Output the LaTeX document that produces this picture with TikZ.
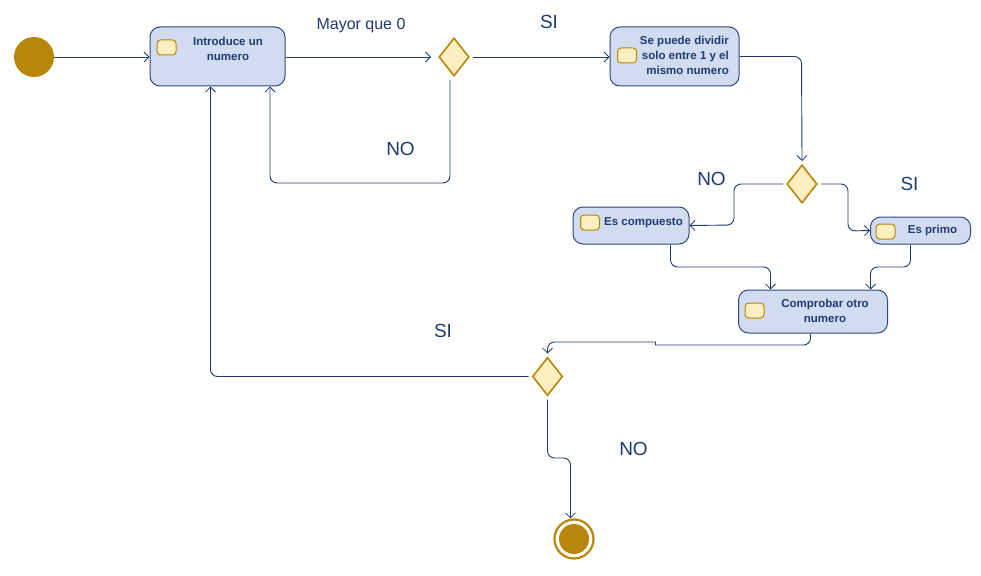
\documentclass[tikz,border=0pt]{standalone}
\usepackage{fontspec}
\setmainfont{Liberation Sans}
\usetikzlibrary{arrows.meta,shapes.geometric}
\definecolor{navy}{HTML}{1F3A70}
\definecolor{boxfill}{HTML}{D1DCF0}
\definecolor{boxline}{HTML}{2E4A7E}
\definecolor{iconfill}{HTML}{FDEFC0}
\definecolor{gold}{HTML}{B8860B}
\tikzset{
  flow/.style={draw=navy, line width=0.9pt, rounded corners=7pt,
    -{Straight Barb[length=5pt,width=10pt,line width=0.8pt]}},
  act/.style={draw=boxline, fill=boxfill, rounded corners=10pt, line width=1pt, inner sep=0pt},
  icon/.style={draw=gold, fill=iconfill, rounded corners=3.5pt, minimum width=19pt,
    minimum height=15pt, line width=1pt, inner sep=0pt},
  dec/.style={diamond, draw=gold, fill=iconfill, line width=1.6pt, minimum width=32pt,
    minimum height=40pt, inner sep=0pt, outer sep=3pt},
  btxt/.style={text=navy, font=\fontsize{11.5}{15}\selectfont\bfseries, inner sep=0pt},
  lbl/.style={text=navy, font=\fontsize{19}{22}\selectfont, inner sep=0pt},
}
\begin{document}
\begin{tikzpicture}[x=1pt,y=-1pt]
\useasboundingbox (0,0) rectangle (981,575);
% start
\node[circle, fill=gold, minimum size=40pt, inner sep=0pt] (start) at (34,57) {};
% activities
\node[act, minimum width=135pt, minimum height=59pt] (b1) at (217.5,56.5) {};
\node[icon] (i1) at (166.5,47.5) {};
\node[btxt, align=center] (t1) at (228,48.5) {Introduce un\\numero};

\node[act, minimum width=129pt, minimum height=59pt] (b2) at (674.5,56.5) {};
\node[icon] (i2) at (627,55.5) {};
\node[btxt, align=right, anchor=east] (t2) at (729,55.5) {Se puede dividir\\solo entre 1 y el\\mismo numero};

\node[act, minimum width=116pt, minimum height=37pt] (ec) at (631,225.5) {};
\node[icon] (i3) at (590,222.5) {};
\node[btxt] (t3) at (643.5,223) {Es compuesto};

\node[act, minimum width=100pt, minimum height=27pt] (ep) at (920.5,230.5) {};
\node[icon] (i4) at (885.5,231.5) {};
\node[btxt] (t4) at (932.5,231) {Es primo};

\node[act, minimum width=149pt, minimum height=43pt] (cp) at (813,311.5) {};
\node[icon] (i5) at (754.5,310.5) {};
\node[btxt, align=center] (t5) at (825,311) {Comprobar otro\\numero};

% decisions
\node[dec] (d1) at (454,57) {};
\node[dec] (d2) at (802,184) {};
\node[dec] (d3) at (547.5,376.5) {};

% end
\node[circle, draw=gold, line width=2.2pt, fill=white, minimum size=39pt, inner sep=0pt] (end) at (574,539) {};
\node[circle, fill=gold, minimum size=30pt, inner sep=0pt] (endin) at (574,539) {};

% connectors
\draw[flow] (start) -- (b1.west |- start);
\draw[flow, shorten >=4pt] (b1.east |- d1) -- (d1.west);
\draw[flow] (d1.east) -- (b2.west |- d1);
\draw[flow] (b2.east) -- (801.5,56.5) -- (d2.north);
\draw[flow] ([xshift=-4pt]d1.south) -- (450,183) -- (270,183) -- ([xshift=52.5pt]b1.south);
\draw[flow] (d2.west) -- (734,184) -- (734,225) -- (ec.east);
\draw[flow] (d2.east) -- (848,184) -- (848,231) -- (ep.west);
\draw[flow] ([xshift=39.5pt]ec.south) -- (670.5,267) -- (770.5,267) -- ([xshift=-42.5pt]cp.north);
\draw[flow] ([xshift=-10pt]ep.south) -- (910.5,267) -- (870.5,267) -- ([xshift=57.5pt]cp.north);
\draw[flow] ([xshift=-2.5pt]cp.south) -- (810.5,345) [sharp corners] -- (655.5,345) -- (655.5,342) [rounded corners=7pt] -- (547.5,342) -- (d3.north);
\draw[flow] (d3.west) -- (210.5,376.5) -- ([xshift=-7pt]b1.south);
\draw[flow] (d3.south) -- (547.5,458) -- (570.5,458) -- ([xshift=-3.5pt]end.north);

% labels
\node[text=navy, font=\fontsize{16}{18}\selectfont, inner sep=0pt] (l1) at (361,26) {Mayor que 0};
\node[lbl] (l2) at (549,22) {SI};
\node[lbl] (l3) at (400.5,149) {NO};
\node[lbl] (l4) at (711.5,179) {NO};
\node[lbl] (l5) at (909.5,184) {SI};
\node[lbl] (l6) at (443,331) {SI};
\node[lbl] (l7) at (633.5,449) {NO};
\end{tikzpicture}
\end{document}
